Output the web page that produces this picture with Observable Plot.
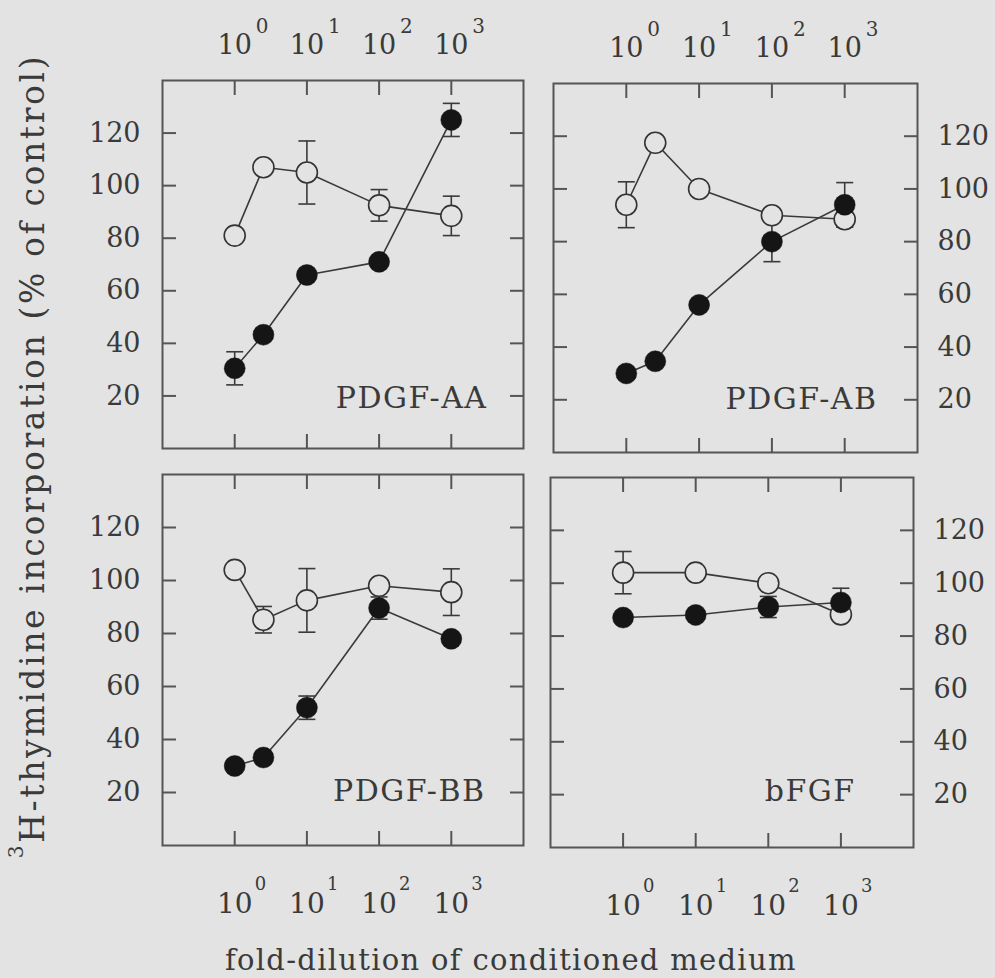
<!DOCTYPE html>
<html><head><meta charset="utf-8">
<script src="https://cdn.jsdelivr.net/npm/d3@7"></script>
<script src="https://cdn.jsdelivr.net/npm/@observablehq/plot@0.6"></script>
<style>
html,body{margin:0;padding:0;background:#e3e3e3;overflow:hidden;}
#fig{position:relative;width:995px;height:978px;background:#e3e3e3;overflow:hidden;font-family:"DejaVu Serif",serif;color:#3a3a3a;}
.panel{position:absolute;}
#ytitle{position:absolute;left:32px;top:456px;transform:translate(-50%,-50%) rotate(-90deg);white-space:nowrap;font-size:33px;line-height:1;letter-spacing:2.6px;}
#ytitle .sup{font-size:20px;position:relative;top:-21px;}
#xtitle{position:absolute;left:225px;top:946px;white-space:nowrap;font-size:29px;line-height:1;letter-spacing:1.3px;}
</style></head>
<body><div id="fig">
<div id="ytitle"><span class="sup">3</span>H-thymidine incorporation (% of control)</div>
<div id="xtitle">fold-dilution of conditioned medium</div>
</div>
<script>
// ---- data ----
const panelNames = ["PDGF-AA", "PDGF-AB", "PDGF-BB", "bFGF"];
const dilution = [1, 2.5, 10, 100, 1000];
const dilutionFGF = [1, 10, 100, 1000];
const xTickValues = [1, 10, 100, 1000];
const xTickBase = ["10", "10", "10", "10"];
const xTickExponents = ["0", "1", "2", "3"];
const yTickValues = [20, 40, 60, 80, 100, 120];

const aaOpen = [81, 107, 105, 92.5, 88.5];
const aaOpenErr = [0, 0, 12, 6, 7.5];
const aaFilled = [30.5, 43.3, 66, 71, 125];
const aaFilledErr = [6.3, 0, 0, 0, 6.3];

const abOpen = [94, 117.5, 100, 90, 88.5];
const abOpenErr = [8.7, 0, 0, 0, 3];
const abFilled = [30, 34.6, 56, 80, 94];
const abFilledErr = [0, 0, 0, 7.6, 8.4];

const bbOpen = [104, 85.2, 92.5, 98, 95.6];
const bbOpenErr = [0, 5, 12, 0, 8.8];
const bbFilled = [30, 33.2, 52, 89.6, 78];
const bbFilledErr = [0, 0, 4.4, 4.2, 0];

const fgfOpen = [104, 104, 100, 88.2];
const fgfOpenErr = [8, 0, 0, 0];
const fgfFilled = [87, 88, 91, 92.7];
const fgfFilledErr = [0, 0, 4, 5.4];

// ---- layout (positions & styles) ----
const layout = [
  {left: 162, top: 80, w: 361, h: 368, yAnchor: "left", xAnchor: "top", lblDx: -36, lblDy: -41},
  {left: 553, top: 83, w: 364, h: 369, yAnchor: "right", xAnchor: "top", lblDx: -40, lblDy: -44},
  {left: 162, top: 474, w: 361, h: 371, yAnchor: "left", xAnchor: "bottom", lblDx: -38, lblDy: -45},
  {left: 550, top: 477, w: 363, h: 370, yAnchor: "right", xAnchor: "bottom", lblDx: -58, lblDy: -47}
];
const series = [
  [dilution, aaOpen, aaOpenErr, aaFilled, aaFilledErr],
  [dilution, abOpen, abOpenErr, abFilled, abFilledErr],
  [dilution, bbOpen, bbOpenErr, bbFilled, bbFilledErr],
  [dilutionFGF, fgfOpen, fgfOpenErr, fgfFilled, fgfFilledErr]
];

const BG = "#e3e3e3", FRAME = "#555", TEXT = "#3a3a3a", LINE = "#3a3a3a", DOT = "#151515";
const rows = (xs, vs, es) => xs.map((x, i) => ({x, v: vs[i], e: es[i]}));
const capSymbol = {draw(ctx, size) { const r = Math.sqrt(size / Math.PI); ctx.moveTo(-r, 0); ctx.lineTo(r, 0); }};

const fig = document.getElementById("fig");
const M = 100;

layout.forEach((L, p) => {
  const [xs, oV, oE, fV, fE] = series[p];
  const open = rows(xs, oV, oE), filled = rows(xs, fV, fE);
  const errs = [...open, ...filled].filter(d => d.e > 0);
  const top = L.xAnchor === "top";
  const plot = Plot.plot({
    width: L.w + 2 * M, height: L.h + 2 * M,
    marginLeft: M, marginRight: M, marginTop: M, marginBottom: M,
    style: {background: "transparent", overflow: "visible", fontFamily: "DejaVu Serif, serif", color: TEXT},
    x: {type: "log", domain: [0.1, 1e4]},
    y: {domain: [0, 140]},
    marks: [
      Plot.axisX(xTickValues, {anchor: "top", tickSize: -14, tickFormat: () => "", label: null, stroke: FRAME, strokeWidth: 2}),
      Plot.axisX(xTickValues, {anchor: "bottom", tickSize: -14, tickFormat: () => "", label: null, stroke: FRAME, strokeWidth: 2}),
      Plot.axisY(yTickValues, {anchor: "left", tickSize: -14, tickFormat: () => "", label: null, stroke: FRAME, strokeWidth: 2}),
      Plot.axisY(yTickValues, {anchor: "right", tickSize: -14, tickFormat: () => "", label: null, stroke: FRAME, strokeWidth: 2}),
      Plot.axisY(yTickValues, {anchor: L.yAnchor, tickSize: 0, tickPadding: L.yAnchor === "left" ? 22 : 20, tickFormat: d => String(d), label: null, fontSize: 27, fill: TEXT}),
      Plot.frame({stroke: FRAME, strokeWidth: 2}),
      Plot.text(xTickValues, {x: d => d, text: (d, i) => xTickBase[i], frameAnchor: L.xAnchor, textAnchor: "middle", lineAnchor: "bottom", dy: top ? -27 : 67, fontSize: top ? 27 : 28, fill: TEXT}),
      Plot.text(xTickValues, {x: d => d, text: (d, i) => xTickExponents[i], frameAnchor: L.xAnchor, textAnchor: "start", lineAnchor: "bottom", dx: top ? 21 : 20, dy: top ? -48 : 44, fontSize: top ? 20 : 18, fill: TEXT}),
      Plot.ruleX(errs, {x: "x", y1: d => d.v - d.e, y2: d => d.v + d.e, stroke: LINE, strokeWidth: 1.6}),
      Plot.dot(errs, {x: "x", y: d => d.v + d.e, symbol: capSymbol, r: 8.5, fill: "none", stroke: LINE, strokeWidth: 1.6}),
      Plot.dot(errs, {x: "x", y: d => d.v - d.e, symbol: capSymbol, r: 8.5, fill: "none", stroke: LINE, strokeWidth: 1.6}),
      Plot.line(open, {x: "x", y: "v", stroke: LINE, strokeWidth: 1.6}),
      Plot.line(filled, {x: "x", y: "v", stroke: LINE, strokeWidth: 1.6}),
      Plot.dot(open, {x: "x", y: "v", r: 10.5, fill: BG, stroke: "#333", strokeWidth: 1.6}),
      Plot.dot(filled, {x: "x", y: "v", r: 10.5, fill: DOT, stroke: DOT, strokeWidth: 0.5}),
      Plot.text([panelNames[p]], {text: d => d, frameAnchor: "bottom-right", textAnchor: "end", lineAnchor: "bottom", dx: L.lblDx, dy: L.lblDy, fontSize: 30, fill: TEXT})
    ]
  });
  plot.querySelectorAll("text").forEach(t => {
    if (t.textContent === panelNames[p]) t.style.letterSpacing = "1.5px";
  });
  plot.classList.add("panel");
  plot.style.left = (L.left - M) + "px";
  plot.style.top = (L.top - M) + "px";
  fig.appendChild(plot);
});
</script>
</body></html>
